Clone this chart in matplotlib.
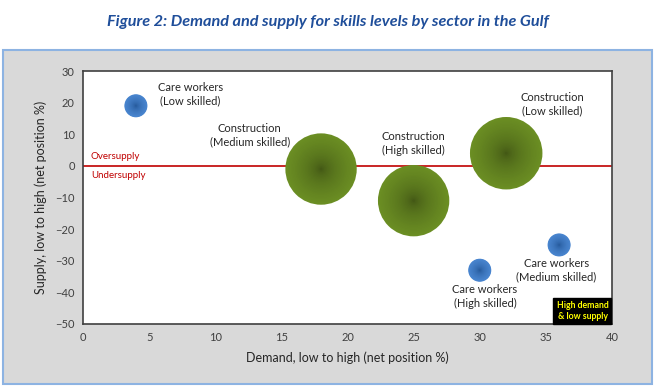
import numpy as np
import matplotlib.pyplot as plt
from matplotlib.patches import Rectangle
from matplotlib.colors import to_rgb

plt.rcParams['font.family'] = ['Lato', 'DejaVu Sans']

# data
labels = ['Care workers\n(Low skilled)', 'Construction\n(Medium skilled)', 'Construction\n(High skilled)',
          'Construction\n(Low skilled)', 'Care workers\n(High skilled)', 'Care workers\n(Medium skilled)']
demand = [4, 18, 25, 32, 30, 36]
supply = [19, -1, -11, 4, -33, -25]
bubble_size = [1.0, 9.6, 9.6, 9.9, 1.0, 1.0]
sector = ['care', 'construction', 'construction', 'construction', 'care', 'care']
label_x = [8.1, 12.6, 25.0, 35.5, 30.4, 35.8]
label_y = [22.7, 9.7, 7.1, 19.5, -41.4, -32.9]

colors = {'care': ('#4a86d0', '#1d4f8f'), 'construction': ('#6b8e23', '#3a4c12')}

fig = plt.figure(figsize=(6.56, 3.87), dpi=100)
fig.patch.set_facecolor('white')

# grey chart panel with blue border
panel = Rectangle((3 / 656, 3 / 387), 649 / 656, 334 / 387, transform=fig.transFigure,
                  facecolor='#d9d9d9', edgecolor='#8db3e2', lw=1.5, zorder=-5)
fig.patches.append(panel)

fig.text(0.5, 1 - 22 / 387, 'Figure 2: Demand and supply for skills levels by sector in the Gulf',
         ha='center', va='center', fontsize=11.7, color='#1f4e9a', fontweight='bold', style='italic')

ax = fig.add_axes([83 / 656, 63 / 387, 529 / 656, 253 / 387])
ax.set_zorder(2)
ax.set_facecolor('white')

base = 275
n = 25
for x, y, s, sec in zip(demand, supply, bubble_size, sector):
    outer, inner = np.array(to_rgb(colors[sec][0])), np.array(to_rgb(colors[sec][1]))
    for i in range(n):
        f = 1 - i / n
        c = inner + (outer - inner) * f ** 0.5
        ax.scatter(x, y, s=base * s * f ** 2, color=c, edgecolors='none', zorder=3 + i * 0.01)

for x, y, t in zip(label_x, label_y, labels):
    ax.text(x, y, t, ha='center', va='center', fontsize=8, color='#262626', linespacing=1.3, zorder=5)

ax.axhline(0, color='#c00000', lw=1.2, zorder=2)
ax.text(0.6, 1.5, 'Oversupply', color='#c00000', fontsize=7, va='bottom', ha='left')
ax.text(0.6, -1.5, 'Undersupply', color='#c00000', fontsize=7, va='top', ha='left')

ax.text(0.993, 0.012, 'High demand\n& low supply', transform=ax.transAxes, ha='right', va='bottom',
        fontsize=6.3, color='#ffff00', fontweight='bold', linespacing=1.25,
        bbox=dict(facecolor='black', edgecolor='black', boxstyle='square,pad=0.35'), zorder=6)

ax.set_xlim(0, 40)
ax.set_ylim(-50, 30)
ax.set_xticks(np.arange(0, 41, 5))
ax.set_yticks(np.arange(-50, 31, 10))
ax.tick_params(length=0, labelsize=8, labelcolor='#404040', pad=6)
for sp in ax.spines.values():
    sp.set_color('#404040')
    sp.set_linewidth(1.2)

ax.set_xlabel('Demand, low to high (net position %)', fontsize=9, color='#262626', labelpad=6)
ax.set_ylabel('Supply, low to high (net position %)', fontsize=9, color='#262626', labelpad=6)

fig.savefig('out.png', dpi=100)
